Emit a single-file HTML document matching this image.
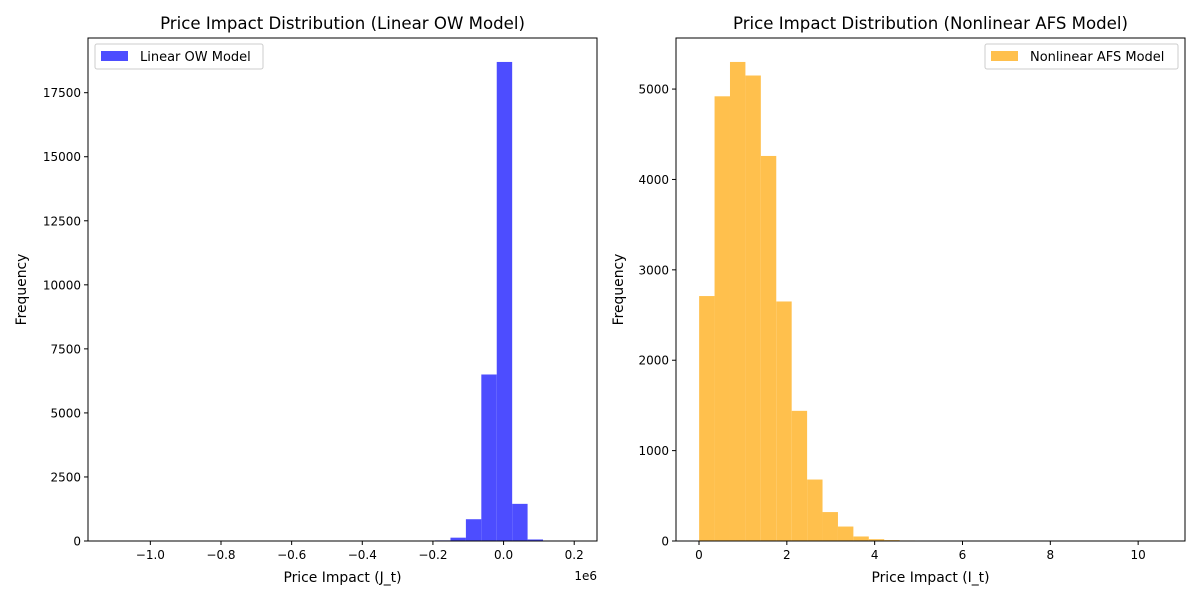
<!DOCTYPE html>
<html><head><meta charset="utf-8"><style>
body{margin:0;background:#fff}
svg text{font-family:"DejaVu Sans","Liberation Sans",sans-serif;fill:#000}
</style></head><body>
<svg id="fig" width="1200" height="600" xmlns="http://www.w3.org/2000/svg"></svg>
<script>
// Left chart data (Linear OW)
const leftBinMin = -1.111, leftBinMax = 0.199;
const leftCounts = [1,0,0,0,0,0,0,0,0,0,0,0,0,0,0,0,0,0,0,0,20,25,130,850,6500,18700,1450,60,20,20];
const leftXTicks = [-1.0,-0.8,-0.6,-0.4,-0.2,0.0,0.2];
const leftXTickLabels = ["−1.0","−0.8","−0.6","−0.4","−0.2","0.0","0.2"];
const leftYTicks = [0,2500,5000,7500,10000,12500,15000,17500];
// Right chart data (Nonlinear AFS)
const rightBinMin = 0.003, rightBinMax = 10.54;
const rightCounts = [2710,4920,5300,5150,4260,2650,1440,680,320,160,50,20,10,6,5,5,5,5,5,5,5,5,0,3,3,3,3,0,3,3];
const rightXTicks = [0,2,4,6,8,10];
const rightYTicks = [0,1000,2000,3000,4000,5000];

const NS="http://www.w3.org/2000/svg";
const svg=document.getElementById('fig');
function mk(tag,attrs,parent){const e=document.createElementNS(NS,tag);for(const k in attrs)e.setAttribute(k,attrs[k]);(parent||svg).appendChild(e);return e;}

function chart(o){
  const g=mk('g',{});
  
  
  const L=o.x0,R=o.x1,T=38,B=541;
  const n=o.counts.length, bw=(o.max-o.min)/n, r=o.max-o.min;
  const xlo=o.min-0.05*r, xhi=o.max+0.05*r;
  const ymax=Math.max(...o.counts)*1.05;
  const sx=v=>L+(v-xlo)/(xhi-xlo)*(R-L);
  const sy=v=>B-v/ymax*(B-T);
  o.counts.forEach((c,i)=>{
    if(c<=0)return;
    const x=sx(o.min+i*bw), x2=sx(o.min+(i+1)*bw);
    const b=mk('rect',{x:x,y:sy(c),width:x2-x,height:B-sy(c),fill:o.color},g);
    
    
  });
  const fr=mk('rect',{x:L,y:T,width:R-L,height:B-T,fill:'none',stroke:'#000','stroke-width':1},g);
  
  
  o.xt.forEach((v,i)=>{
    const x=sx(v);
    mk('line',{x1:x,x2:x,y1:B,y2:B+4,stroke:'#000'},g);
    const t=mk('text',{x:x,y:B+18,'text-anchor':'middle','font-size':12},g);
    t.textContent=o.xtl?o.xtl[i]:String(v);
    
    
  });
  o.yt.forEach(v=>{
    const y=sy(v);
    mk('line',{x1:L-4,x2:L,y1:y,y2:y,stroke:'#000'},g);
    const t=mk('text',{x:L-7,y:y+4.5,'text-anchor':'end','font-size':12},g);
    t.textContent=String(v);
    
    
  });
  const ti=mk('text',{x:(L+R)/2,y:29,'text-anchor':'middle','font-size':16.6},g);
  ti.textContent=o.title;
  
  
  const xl=mk('text',{x:(L+R)/2,y:582,'text-anchor':'middle','font-size':13.9},g);
  xl.textContent=o.xlabel;
  
  
  const yl=mk('text',{x:0,y:0,'text-anchor':'middle','font-size':13.9,transform:`translate(${o.ylx},${(T+B)/2}) rotate(-90)`},g);
  yl.textContent='Frequency';
  
  
  if(o.offset){
    const of=mk('text',{x:R,y:580,'text-anchor':'end','font-size':12},g);
    of.textContent=o.offset;
    
    
  }
  const lg=mk('g',{},g);
  
  
  mk('rect',{x:o.lx,y:44,width:o.lw,height:25,rx:2,fill:'#fff','fill-opacity':0.8,stroke:'#ccc'},lg);
  mk('rect',{x:o.lx+6,y:51,width:27,height:10,fill:o.color},lg);
  const lt=mk('text',{x:o.lx+45,y:61,'font-size':13},lg);
  lt.textContent=o.label;
  
  
}
chart({name:'linear-ow-chart',x0:88,x1:597,min:leftBinMin,max:leftBinMax,counts:leftCounts,color:'#4d4dff',
  xt:leftXTicks,xtl:leftXTickLabels,yt:leftYTicks,title:'Price Impact Distribution (Linear OW Model)',xlabel:'Price Impact (J_t)',
  ylx:26,offset:'1e6',lx:95,lw:168,label:'Linear OW Model'});
chart({name:'nonlinear-afs-chart',x0:676,x1:1185,min:rightBinMin,max:rightBinMax,counts:rightCounts,color:'#ffc04d',
  xt:rightXTicks,yt:rightYTicks,title:'Price Impact Distribution (Nonlinear AFS Model)',xlabel:'Price Impact (I_t)',
  ylx:623,lx:985,lw:193,label:'Nonlinear AFS Model'});
</script>
</body></html>
